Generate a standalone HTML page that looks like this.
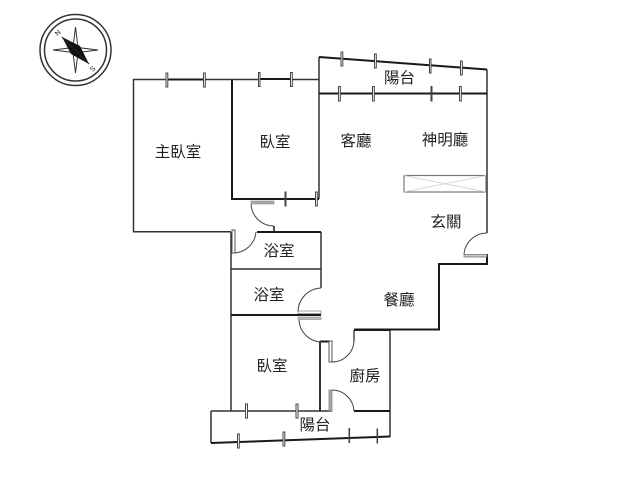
<!DOCTYPE html>
<html><head><meta charset="utf-8"><style>
html,body{margin:0;padding:0;background:#fff;width:640px;height:480px;overflow:hidden}
svg{display:block;filter:blur(0.35px)}
text{font-family:"Liberation Sans","Noto Sans CJK TC",sans-serif;font-size:15.5px;fill:#222;text-anchor:middle}
</style></head><body>
<svg width="640" height="480" viewBox="0 0 640 480" xmlns="http://www.w3.org/2000/svg">
<rect width="640" height="480" fill="#fff"/>
<!-- compass -->
<g fill="none" stroke="#333">
<circle cx="75.500" cy="50" r="35.500" stroke-width="1.500"/>
<circle cx="75.500" cy="50" r="31" stroke-width="1.500"/>
<path d="M75.500 27 L78 47.500 L98 50 L78 52.500 L75.500 73 L73 52.500 L53 50 L73 47.500 Z" stroke-width="1"/>
</g>
<path d="M62 37 L80 46 L89 64 L71 54 Z" fill="#111"/>
<path d="M62 37 L89 64" stroke="#222" stroke-width="1"/>
<text x="58" y="35" style="font-size:7px" transform="rotate(-45 58 33)">N</text>
<text x="93" y="71" style="font-size:7px" transform="rotate(-45 93 69)">S</text>
<!-- thin walls -->
<g fill="none" stroke="#333" stroke-width="1.500">
<path d="M204 79.500 H259 M291 79.500 H319 M166.500 79.500 H133.500 V231.700 H231"/>
<path d="M231 232 V411"/>
<path d="M231 269 H321"/>
<path d="M321 232 V288"/>
<path d="M320 342 V411"/>
<path d="M390 330 V437"/>
<path d="M211 411 H332"/>
<path d="M211 411 V443"/>
<path d="M487 69.500 V233"/>
<path d="M319 57 V199"/>
</g>
<!-- heavy walls -->
<g fill="none" stroke="#1a1a1a" stroke-width="2">
<path d="M167 79.500 H204 M259 79 H291"/>
<path d="M232 79.500 V199 H319"/>
<path d="M257 232 H321"/>
<path d="M231 315 H321"/>
<path d="M319 57 L487 69.500"/>
<path d="M319 93.500 H487"/>
<path d="M487 254 V264 H439 V329.500 H354"/>
<path d="M354 330 H390"/>
<path d="M320 341.500 H330"/>
<path d="M354 411 H390"/>
<path d="M211 443 L390 436.500"/>
<path d="M320 341 V411" stroke-width="1.600"/>
<path d="M274 226 V232" stroke-width="1.500"/>
<path d="M354 330 V341" stroke-width="1.200"/>
</g>
<!-- closet -->
<rect x="404" y="175.500" width="82" height="16.500" fill="#fff" stroke="#777" stroke-width="1.200"/>
<path d="M404 175.500 L486 192 M404 192 L486 175.500" stroke="#ccc" stroke-width="0.800"/>
<!-- door arcs -->
<g fill="none" stroke="#444" stroke-width="1">
<path d="M251 204 A23 23 0 0 0 274 226"/>
<path d="M233 253 A23 23 0 0 0 256 232"/>
<path d="M321 288 A24 24 0 0 0 298 312"/>
<path d="M299 320 A23 23 0 0 0 321 342"/>
<path d="M332 362 A22 22 0 0 0 354 340"/>
<path d="M332 390 A22 22 0 0 1 354 411"/>
<path d="M464 254 A23 23 0 0 1 487 233"/>
</g>
<!-- door leaves -->
<rect x="251" y="201" width="23" height="3" fill="#aaa" stroke="#888" stroke-width="0.600"/>
<rect x="232" y="230" width="3" height="23" fill="#fff" stroke="#444" stroke-width="0.900"/>
<rect x="298" y="311" width="23" height="2.500" fill="#fff" stroke="#777" stroke-width="0.700"/>
<rect x="298" y="317" width="23" height="2.500" fill="#bbb" stroke="#888" stroke-width="0.600"/>
<rect x="329" y="341" width="3" height="21" fill="#fff" stroke="#444" stroke-width="0.900"/>
<rect x="329" y="390" width="3" height="21" fill="#aaa" stroke="#777" stroke-width="0.700"/>
<rect x="464" y="254.500" width="23" height="2.500" fill="#ccc" stroke="#666" stroke-width="0.700"/>
<!-- window ticks -->
<g fill="#fff" stroke="#444" stroke-width="1">
<rect x="166" y="73" width="1.800" height="14"/>
<rect x="203.500" y="73" width="1.800" height="14"/>
<rect x="258.500" y="72.500" width="1.500" height="14"/>
<rect x="290.500" y="72.500" width="1.800" height="14"/>
<rect x="285" y="192" width="1" height="14"/>
<rect x="315.500" y="192" width="1.800" height="14"/>
<rect x="341" y="52" width="1.800" height="14"/>
<rect x="374.500" y="54" width="1.800" height="14"/>
<rect x="429.500" y="59" width="1.500" height="14"/>
<rect x="460.500" y="61" width="1.800" height="14"/>
<rect x="338.500" y="86.500" width="1.800" height="14.500"/>
<rect x="372.500" y="86.500" width="1.800" height="14.500"/>
<rect x="431" y="86.500" width="1" height="14.500"/>
<rect x="459.500" y="86.500" width="1.800" height="14.500"/>
<rect x="245.500" y="404" width="2" height="14"/>
<rect x="296" y="404" width="2" height="14"/>
<rect x="237.500" y="434" width="1.800" height="14"/>
<rect x="283" y="432" width="1.800" height="14"/>
<rect x="349" y="428.500" width="0.600" height="14"/>
<rect x="377" y="429" width="0.600" height="14"/>
</g>
<!-- labels -->
<text x="178" y="157">主臥室</text>
<text x="275" y="147">臥室</text>
<text x="356" y="146">客廳</text>
<text x="445" y="145">神明廳</text>
<text x="399.500" y="83">陽台</text>
<text x="446" y="227">玄關</text>
<text x="279" y="256">浴室</text>
<text x="269" y="300">浴室</text>
<text x="399" y="305">餐廳</text>
<text x="272" y="371">臥室</text>
<text x="365" y="381">廚房</text>
<text x="315" y="430">陽台</text>
</svg>
</body></html>
